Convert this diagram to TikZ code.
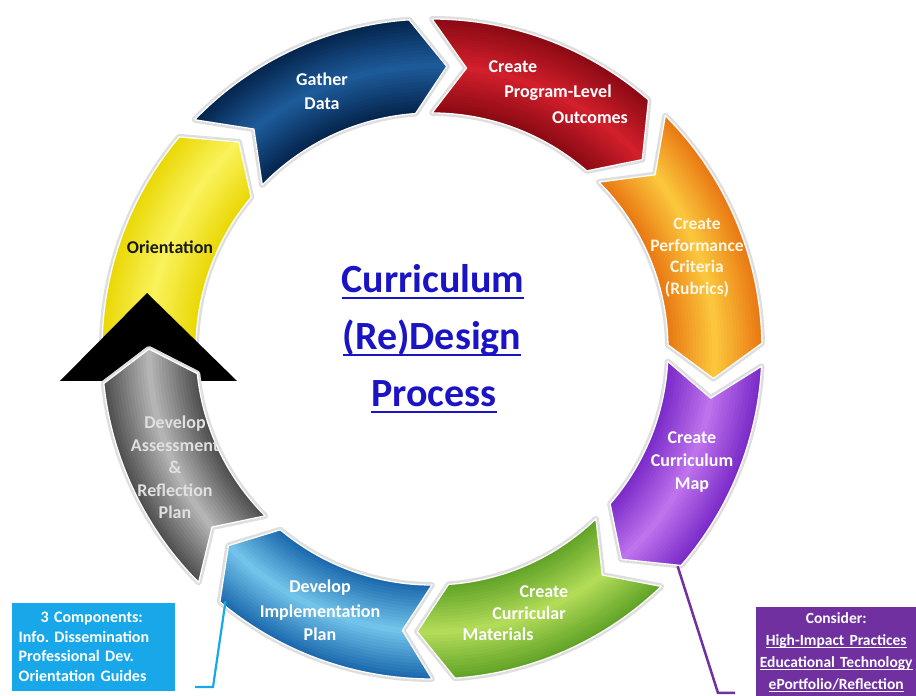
\documentclass[tikz,border=0pt]{standalone}
\usepackage{fontspec}
\setmainfont{Carlito}
\usetikzlibrary{calc}
\frenchspacing

% segment colours: dark edge / light middle
\definecolor{yelD}{HTML}{EAD908}
\definecolor{yelL}{HTML}{F9F25A}
\definecolor{navD}{HTML}{05264F}
\definecolor{navL}{HTML}{1D5A98}
\definecolor{redD}{HTML}{8C0A14}
\definecolor{redL}{HTML}{D11F2B}
\definecolor{orgD}{HTML}{EA7A14}
\definecolor{orgL}{HTML}{FBC63C}
\definecolor{purD}{HTML}{7B2BC9}
\definecolor{purL}{HTML}{BE72EC}
\definecolor{grnD}{HTML}{62A427}
\definecolor{grnL}{HTML}{B2DB58}
\definecolor{bluD}{HTML}{1C6AAE}
\definecolor{bluL}{HTML}{72C3EA}
\definecolor{gryD}{HTML}{505050}
\definecolor{gryL}{HTML}{B4B4B4}
\definecolor{titleblue}{HTML}{1A14C4}
\definecolor{cyanbox}{HTML}{18A8EA}
\definecolor{purbox}{HTML}{7030A0}

% ring geometry
\newcommand\Rout{330}
\newcommand\Rin{236}
\newcommand\Rmid{283}
\newcommand\ringW{94}

% chevron-shaped ring segment: #1 start angle, #2 end angle, #3 chevron depth
\newcommand\segpath[3]{(#1:\Rout) arc[start angle=#1, end angle=#2, radius=\Rout]
  -- ({#2-#3}:\Rmid) -- (#2:\Rin) arc[start angle=#2, end angle=#1, radius=\Rin]
  -- ({#1-#3}:\Rmid) -- cycle}

% draw one segment with halo, radial gradient and white rim
\newcommand\ringseg[5]{%
  \path[draw=black!13, line width=6pt, line join=round] \segpath{#1}{#2}{#3};
  \begin{scope}
    \clip \segpath{#1}{#2}{#3};
    \fill[#4] (0,0) circle[radius=345];
    \foreach \i in {0,...,14}{%
      \pgfmathsetmacro\segW{\ringW*(1-\i/15)}%
      \pgfmathtruncatemacro\segP{100*\i/14}%
      \draw[line width=\segW pt, #5!\segP!#4] (0,0) circle[radius=\Rmid];
    }
  \end{scope}
  \path[draw=white, line width=1.3pt, line join=round] \segpath{#1}{#2}{#3};
}

% underline at a fixed depth below the baseline
\newcommand\ulined[3]{\leavevmode\setbox0=\hbox{#3}\rlap{\rule[-#1]{\wd0}{#2}}\box0}

\tikzset{
  seglabel/.style={font=\bfseries\fontsize{18}{22.5}\selectfont, text=white, align=center, inner sep=0pt},
  titletext/.style={font=\bfseries\fontsize{40}{57}\selectfont, text=titleblue, inner sep=0pt},
  boxtext/.style={font=\bfseries\fontsize{16}{19.5}\selectfont, text=white},
}

\begin{document}
\begin{tikzpicture}[x=1pt, y=1pt]
\useasboundingbox (0,0) rectangle (916,696);
\fill[white] (0,0) rectangle (916,696);

\begin{scope}[shift={(432,347)}]
  % Orientation, then the black arrowhead over its lower end
  \ringseg{183}{140}{7}{yelD}{yelL}
  \ringseg{136}{94}{7}{navD}{navL}
  \ringseg{90}{49}{7}{redD}{redL}
  \ringseg{45}{1}{7}{orgD}{orgL}
  \ringseg{-3}{-41}{7}{purD}{purL}
  \ringseg{-46}{-86}{7}{grnD}{grnL}
  \ringseg{-90}{-130}{6}{bluD}{bluL}
  \coordinate (mapEdge) at (-41.5:328);
  \coordinate (implEdge) at (-129.3:326);
\end{scope}

% big black arrowhead
\fill[black] (147,403) -- (237,315) -- (60,315) -- cycle;

\begin{scope}[shift={(432,347)}]
  \ringseg{-135}{-174}{6}{gryD}{gryL}
\end{scope}

% centre title
\node[titletext, anchor=base] (title1) at (433,403) {\ulined{6.5pt}{2.2pt}{Curriculum}};
\node[titletext, anchor=base] (title2) at (432,346) {\ulined{6.5pt}{2.2pt}{(Re)Design}};
\node[titletext, anchor=base] (title3) at (434,289) {\ulined{6.5pt}{2.2pt}{Process}};

% segment labels
\node[seglabel, text=black!90] (orient) at (170,449) {Orientation};
\node[seglabel] (gather) at (322,604.5) {Gather\\[1pt]Data};
\node[seglabel] (outA) at (513,629) {Create};
\node[seglabel] (outB) at (558,603) {Program-Level};
\node[seglabel] (outC) at (590,578) {Outcomes};
\node[seglabel, text=white!85!orgL, font=\bfseries\fontsize{17.5}{21.7}\selectfont] (perf) at (697,438.5) {Create\\Performance\\Criteria\\(Rubrics)};
\node[seglabel] (cmap) at (692,234) {Create\\[1pt]Curriculum\\Map};
\node[seglabel] (matA) at (544,104) {Create};
\node[seglabel] (matB) at (529,83) {Curricular};
\node[seglabel] (matC) at (498,62) {Materials};
\node[seglabel] (impl) at (320,85.5) {Develop\\[2pt]Implementation\\[1pt]Plan};
\node[seglabel, text=black!12] (assess) at (175,228.5) {Develop\\Assessment\\\&\\Reflection\\Plan};

% callout boxes
\node[boxtext, fill=cyanbox, anchor=south west, text width=150pt, inner xsep=6.5pt,
      minimum height=88pt, align=left, inner ysep=0pt] (compbox) at (12,5)
  {\hspace*{22pt}3 Components:\\Info. Dissemination\\Professional Dev.\\Orientation Guides};
\node[boxtext, fill=purbox, anchor=north west, text width=156pt, inner xsep=2pt,
      minimum height=90pt, align=center, inner ysep=0pt, font=\bfseries\fontsize{15.5}{22}\selectfont] (considerbox) at (756,89)
  {Consider:\\\ulined{3pt}{1pt}{High-Impact Practices}\\\ulined{3pt}{1pt}{Educational Technology}\\\ulined{3pt}{1pt}{ePortfolio/Reflection}};

% callout connectors
\coordinate (compTail) at (195,9);
\coordinate (compBend) at (213,9);
\draw[cyanbox, line width=2.2pt] (compTail) -- (compBend) -- (implEdge);
\coordinate (mapBend) at (718,3);
\coordinate (mapTail) at (735,3);
\draw[purbox, line width=2.5pt] (mapEdge) -- (mapBend) -- (mapTail);
\end{tikzpicture}
\end{document}
